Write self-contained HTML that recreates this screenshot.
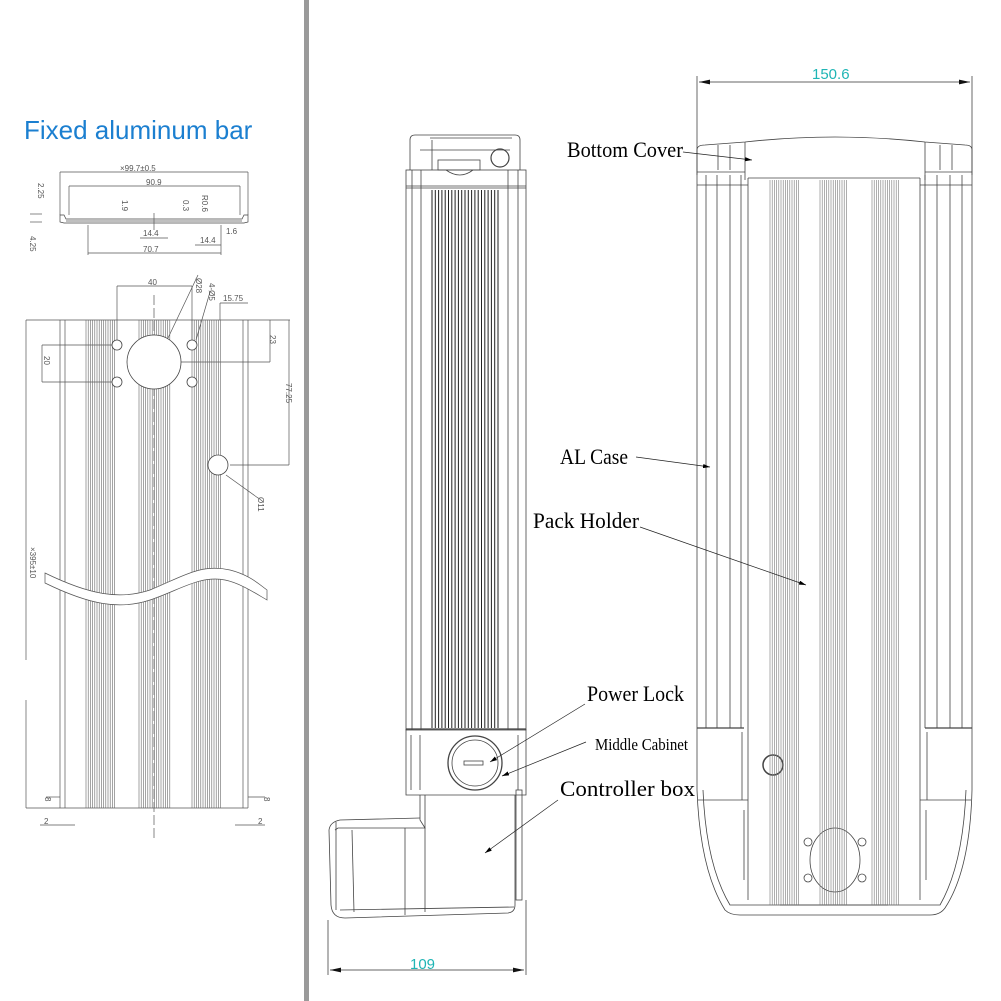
<!DOCTYPE html>
<html><head><meta charset="utf-8"><style>
html,body{margin:0;padding:0;background:#fff}
svg{display:block}
.l{font-family:"Liberation Serif",serif;fill:#000}
.d{font-family:"Liberation Sans",sans-serif;fill:#555;font-size:8px}
</style></head><body>
<svg id="s" width="1001" height="1001" viewBox="0 0 1001 1001" xmlns="http://www.w3.org/2000/svg">
<defs><marker id="a" markerWidth="10" markerHeight="6" refX="10" refY="3" orient="auto"><path d="M0,0 L10,3 L0,6z" fill="#000"/></marker>
<marker id="b" markerWidth="14" markerHeight="6" refX="14" refY="3" orient="auto"><path d="M0,0 L14,3 L0,6z" fill="#111"/></marker>
<marker id="c" markerWidth="14" markerHeight="6" refX="0" refY="3" orient="auto"><path d="M14,0 L0,3 L14,6z" fill="#111"/></marker></defs>
<rect x="304" y="0" width="5" height="1001" fill="#9a9a9a"/>
<text x="24" y="139" font-family="Liberation Sans,sans-serif" font-size="26" fill="#1b7fd0">Fixed aluminum bar</text>
<g stroke="#555" stroke-width="0.7" fill="none">
<line x1="60" y1="172" x2="248" y2="172"/><line x1="69" y1="186" x2="240" y2="186"/>
<line x1="60" y1="172" x2="60" y2="215"/><line x1="248" y1="172" x2="248" y2="215"/>
<line x1="69" y1="186" x2="69" y2="215"/><line x1="240" y1="186" x2="240" y2="215"/>
<path d="M60,215 L64,215 L66,219 L242,219 L244,215 L248,215 L248,222 L244,223 L64,223 L60,222z" stroke="#444"/>
<line x1="66" y1="221" x2="242" y2="221"/>
<line x1="88" y1="253" x2="221" y2="253"/><line x1="88" y1="225" x2="88" y2="255"/><line x1="221" y1="225" x2="221" y2="255"/>
<line x1="140" y1="238" x2="168" y2="238"/><line x1="195" y1="245" x2="221" y2="245"/>
<line x1="154" y1="213" x2="154" y2="230"/>
<line x1="30" y1="214" x2="42" y2="214"/><line x1="30" y1="222" x2="42" y2="222"/>
<line x1="60" y1="320" x2="60" y2="808"/><line x1="65" y1="320" x2="65" y2="808"/>
<line x1="243" y1="320" x2="243" y2="808"/><line x1="248" y1="320" x2="248" y2="808"/>
<line x1="26" y1="320" x2="290" y2="320"/><line x1="60" y1="808" x2="248" y2="808"/>
<line x1="26" y1="320" x2="26" y2="660"/><line x1="26" y1="700" x2="26" y2="808"/><line x1="26" y1="808" x2="60" y2="808"/>
<line x1="117" y1="286" x2="117" y2="345"/><line x1="192" y1="286" x2="192" y2="345"/><line x1="117" y1="286" x2="192" y2="286"/>
<line x1="220" y1="303" x2="248" y2="303"/><line x1="220" y1="303" x2="220" y2="320"/>
<line x1="270" y1="320" x2="270" y2="362"/><line x1="289" y1="320" x2="289" y2="465"/><line x1="130" y1="362" x2="270" y2="362"/><line x1="230" y1="465" x2="289" y2="465"/>
<line x1="42" y1="345" x2="117" y2="345"/><line x1="42" y1="382" x2="117" y2="382"/><line x1="42" y1="345" x2="42" y2="382"/>
<line x1="154" y1="295" x2="154" y2="840" stroke-dasharray="10,3"/>
<line x1="168" y1="338" x2="198" y2="275"/><line x1="196" y1="340" x2="210" y2="292"/>
<line x1="226" y1="475" x2="258" y2="498"/>
<line x1="46" y1="797" x2="60" y2="797"/><line x1="248" y1="797" x2="265" y2="797"/>
<line x1="40" y1="825" x2="75" y2="825"/><line x1="235" y1="825" x2="265" y2="825"/>
</g>
<g id="fins1" stroke="#666" stroke-width="0.6"></g>
<path d="M45,573 C90,595 120,600 150,590 C180,578 200,563 230,570 C250,575 260,585 267,590 L267,600 C255,593 240,583 225,580 C200,575 180,590 150,600 C120,610 90,605 45,583z" fill="#fff" stroke="#555" stroke-width="0.7"/>
<g fill="#fff" stroke="#444" stroke-width="0.8">
<circle cx="154" cy="362" r="27"/>
<circle cx="117" cy="345" r="5"/><circle cx="117" cy="382" r="5"/><circle cx="192" cy="345" r="5"/><circle cx="192" cy="382" r="5"/>
<circle cx="218" cy="465" r="10"/>
</g>
<g class="d">
<text x="120" y="171">×99.7±0.5</text><text x="146" y="185">90.9</text><text x="143" y="236">14.4</text><text x="200" y="243">14.4</text><text x="226" y="234">1.6</text><text x="143" y="252">70.7</text>
<text x="148" y="285">40</text><text x="223" y="301">15.75</text>
<text transform="translate(122,200) rotate(90)">1.9</text><text transform="translate(183,200) rotate(90)">0.3</text><text transform="translate(202,195) rotate(90)">R0.6</text>
<text transform="translate(38,183) rotate(90)">2.25</text><text transform="translate(30,236) rotate(90)">4.25</text>
<text transform="translate(44,356) rotate(90)">20</text><text transform="translate(270,335) rotate(90)">23</text><text transform="translate(286,383) rotate(90)">77.25</text>
<text transform="translate(30,547) rotate(90)">×395±10</text><text transform="translate(258,497) rotate(90)">Ø11</text>
<text transform="translate(196,278) rotate(90)">Ø28</text><text transform="translate(209,283) rotate(90)">4-Ø5</text>
<text x="44" y="824">2</text><text x="258" y="824">2</text><text transform="translate(45,797) rotate(90)">8</text><text transform="translate(264,797) rotate(90)">8</text>
</g>

<g stroke="#444" stroke-width="0.8" fill="none">
<path d="M410,170 L410,140 Q410,135 415,135 L515,135 Q520,135 520,140 L520,170"/>
<line x1="432" y1="140" x2="432" y2="170"/><line x1="420" y1="150" x2="510" y2="150"/><line x1="430" y1="138" x2="512" y2="138"/>
<rect x="438" y="160" width="42" height="10"/><path d="M446,170 Q460,180 473,170"/>
<circle cx="500" cy="158" r="9" stroke-width="1.2"/>
<rect x="406" y="170" width="120" height="560"/>
<line x1="406" y1="186" x2="526" y2="186"/><line x1="406" y1="188" x2="526" y2="188"/>
<line x1="412" y1="170" x2="412" y2="730"/><line x1="421" y1="170" x2="421" y2="730"/><line x1="508" y1="170" x2="508" y2="730"/><line x1="518" y1="170" x2="518" y2="730"/>
<line x1="406" y1="729" x2="526" y2="729" stroke-width="1.2"/>
<path d="M406,729 L406,795 L526,795 L526,729"/>
<line x1="411" y1="735" x2="411" y2="790"/><line x1="420" y1="735" x2="420" y2="790"/><line x1="518" y1="735" x2="518" y2="790"/>
<circle cx="475" cy="763" r="27" stroke-width="1.3"/><circle cx="475" cy="763" r="23"/>
<rect x="464" y="761" width="19" height="4"/>
<path d="M420,795 L420,820 L425,828 L338,828 L335,830"/>
<path d="M425,795 L425,912 M515,795 L515,905 Q515,912 508,913 L345,918 Q332,918 331,905 L329,830 Q330,822 340,820 L420,818"/>
<line x1="336" y1="822" x2="336" y2="910"/><line x1="352" y1="830" x2="354" y2="912"/><line x1="340" y1="910" x2="514" y2="907"/><line x1="405" y1="828" x2="405" y2="915"/>
<rect x="516" y="790" width="6" height="110"/>
<line x1="328" y1="920" x2="328" y2="975"/><line x1="526" y1="900" x2="526" y2="975"/>
<line x1="330" y1="970" x2="524" y2="970" marker-start="url(#c)" marker-end="url(#b)" stroke="#333"/>
</g>
<g id="fins2" stroke="#222" stroke-width="1"></g>
<text x="410" y="969" font-family="Liberation Sans,sans-serif" font-size="15" fill="#1fb5b5">109</text>

<g stroke="#444" stroke-width="0.8" fill="none">
<line x1="697" y1="76" x2="697" y2="175"/><line x1="972" y1="76" x2="972" y2="175"/>
<line x1="699" y1="82" x2="970" y2="82" marker-start="url(#c)" marker-end="url(#b)" stroke="#333"/>
<path d="M697,175 L697,150 Q697,145 705,145 L745,142 Q835,132 925,142 L965,145 Q972,145 972,150 L972,175"/>
<line x1="745" y1="142" x2="745" y2="180"/><line x1="925" y1="142" x2="925" y2="180"/>
<line x1="718" y1="145" x2="718" y2="170"/><line x1="730" y1="145" x2="730" y2="170"/><line x1="940" y1="145" x2="940" y2="170"/><line x1="952" y1="145" x2="952" y2="170"/>
<line x1="697" y1="172" x2="745" y2="172"/><line x1="925" y1="172" x2="972" y2="172"/>
<line x1="697" y1="185" x2="748" y2="185"/><line x1="920" y1="185" x2="972" y2="185"/>
<line x1="748" y1="178" x2="920" y2="178"/>
<line x1="697" y1="175" x2="697" y2="728"/><line x1="706" y1="175" x2="706" y2="728"/><line x1="717" y1="175" x2="717" y2="728"/><line x1="730" y1="175" x2="730" y2="728"/><line x1="741" y1="175" x2="741" y2="728"/>
<line x1="748" y1="178" x2="748" y2="900"/><line x1="920" y1="178" x2="920" y2="900"/>
<line x1="925" y1="175" x2="925" y2="728"/><line x1="937" y1="175" x2="937" y2="728"/><line x1="950" y1="175" x2="950" y2="728"/><line x1="962" y1="175" x2="962" y2="728"/><line x1="972" y1="175" x2="972" y2="728"/>
<line x1="697" y1="728" x2="744" y2="728" stroke-width="1.2"/><line x1="925" y1="728" x2="972" y2="728" stroke-width="1.2"/>
<path d="M697,728 L697,790 Q700,870 725,910 Q730,915 740,915 L930,915 Q940,915 945,908 Q970,870 972,790 L972,728"/>
<path d="M703,790 Q706,865 730,905 L940,905 Q963,865 966,790"/>
<line x1="742" y1="732" x2="742" y2="800"/><line x1="927" y1="732" x2="927" y2="800"/>
<line x1="698" y1="800" x2="748" y2="800"/><line x1="920" y1="800" x2="971" y2="800"/>
<line x1="744" y1="810" x2="744" y2="880"/><line x1="926" y1="810" x2="926" y2="880"/>
<line x1="780" y1="905" x2="888" y2="905"/>
<circle cx="773" cy="765" r="10" fill="#fff" stroke-width="1.5"/>
<ellipse cx="835" cy="860" rx="25" ry="32" fill="#fff"/>
<circle cx="808" cy="842" r="4" fill="#fff"/><circle cx="862" cy="842" r="4" fill="#fff"/><circle cx="808" cy="878" r="4" fill="#fff"/><circle cx="862" cy="878" r="4" fill="#fff"/>
</g>
<g id="fins3" stroke="#777" stroke-width="0.6"></g>
<text x="812" y="79" font-family="Liberation Sans,sans-serif" font-size="15" fill="#1fb5b5">150.6</text>

<g stroke="#222" stroke-width="0.7" fill="none">
<line x1="683" y1="152" x2="752" y2="160" marker-end="url(#a)"/>
<line x1="636" y1="457" x2="710" y2="467" marker-end="url(#a)"/>
<line x1="640" y1="527" x2="806" y2="585" marker-end="url(#a)"/>
<line x1="585" y1="704" x2="490" y2="762" marker-end="url(#a)"/>
<line x1="586" y1="742" x2="502" y2="776" marker-end="url(#a)"/>
<line x1="558" y1="800" x2="485" y2="853" marker-end="url(#a)"/>
</g>
<text class="l" x="567" y="157" font-size="22" textLength="116" lengthAdjust="spacingAndGlyphs">Bottom Cover</text>
<text class="l" x="560" y="464" font-size="22" textLength="68" lengthAdjust="spacingAndGlyphs">AL Case</text>
<text class="l" x="533" y="528" font-size="22" textLength="106" lengthAdjust="spacingAndGlyphs">Pack Holder</text>
<text class="l" x="587" y="701" font-size="22" textLength="97" lengthAdjust="spacingAndGlyphs">Power Lock</text>
<text class="l" x="595" y="750" font-size="17" textLength="93" lengthAdjust="spacingAndGlyphs">Middle Cabinet</text>
<text class="l" x="560" y="796" font-size="22" textLength="135" lengthAdjust="spacingAndGlyphs">Controller box</text>
</svg>
<script>
function fins(id,groups,y1,y2,step){var g=document.getElementById(id),s='';groups.forEach(function(r){for(var x=r[0];x<=r[1];x+=step){s+='<line x1="'+x+'" y1="'+y1+'" x2="'+x+'" y2="'+y2+'"/>';}});g.innerHTML=s;}
fins('fins1',[[86,116],[139,170],[192,222]],320,808,2.2);
fins('fins2',[[432,501]],190,728,3.3);
fins('fins3',[[770,800],[820,848],[872,900]],180,905,2.2);
</script>
</body></html>
